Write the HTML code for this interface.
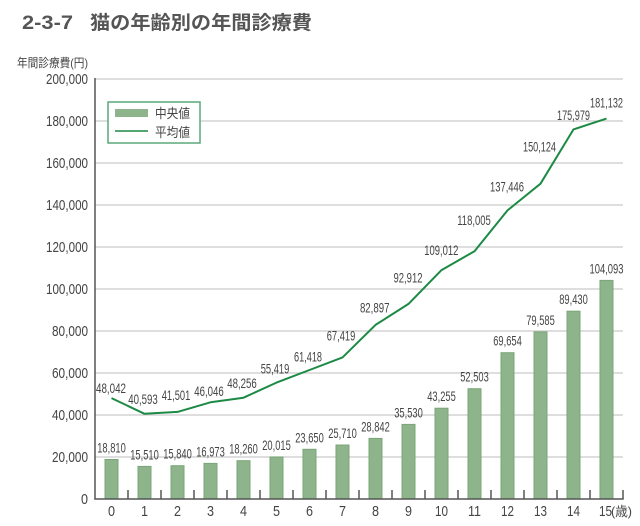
<!DOCTYPE html>
<html><head><meta charset="utf-8"><style>
html,body{margin:0;padding:0;background:#fff;}
svg{display:block;}
text{font-family:"Liberation Sans","Noto Sans CJK JP",sans-serif;fill:#444;}
</style></head><body>
<svg width="640" height="526" viewBox="0 0 640 526" xmlns="http://www.w3.org/2000/svg">
<!-- title -->
<text x="22" y="29" font-size="19" font-weight="bold" style="fill:#555" textLength="51" lengthAdjust="spacingAndGlyphs">2-3-7</text>
<text x="90" y="29" font-size="19" font-weight="bold" style="fill:#555;font-family:'Noto Sans CJK JP',sans-serif" textLength="222" lengthAdjust="spacingAndGlyphs">猫の年齢別の年間診療費</text>
<!-- y axis title -->
<text x="17" y="67" font-size="12" textLength="71" lengthAdjust="spacingAndGlyphs">年間診療費(円)</text>

<!-- gridlines -->
<g stroke="#c9c9c9" stroke-width="1.3">
<line x1="95" y1="79" x2="623" y2="79"/>
<line x1="95" y1="121" x2="623" y2="121"/>
<line x1="95" y1="163" x2="623" y2="163"/>
<line x1="95" y1="205" x2="623" y2="205"/>
<line x1="95" y1="247" x2="623" y2="247"/>
<line x1="95" y1="289" x2="623" y2="289"/>
<line x1="95" y1="331" x2="623" y2="331"/>
<line x1="95" y1="373" x2="623" y2="373"/>
<line x1="95" y1="415" x2="623" y2="415"/>
<line x1="95" y1="457" x2="623" y2="457"/>
</g>

<!-- y labels -->
<g font-size="15" text-anchor="end">
<text x="88" y="84" textLength="42" lengthAdjust="spacingAndGlyphs">200,000</text>
<text x="88" y="126" textLength="42" lengthAdjust="spacingAndGlyphs">180,000</text>
<text x="88" y="168" textLength="42" lengthAdjust="spacingAndGlyphs">160,000</text>
<text x="88" y="210" textLength="42" lengthAdjust="spacingAndGlyphs">140,000</text>
<text x="88" y="252" textLength="42" lengthAdjust="spacingAndGlyphs">120,000</text>
<text x="88" y="294" textLength="42" lengthAdjust="spacingAndGlyphs">100,000</text>
<text x="88" y="336" textLength="36" lengthAdjust="spacingAndGlyphs">80,000</text>
<text x="88" y="378" textLength="36" lengthAdjust="spacingAndGlyphs">60,000</text>
<text x="88" y="420" textLength="36" lengthAdjust="spacingAndGlyphs">40,000</text>
<text x="88" y="462" textLength="36" lengthAdjust="spacingAndGlyphs">20,000</text>
<text x="88" y="504" textLength="7" lengthAdjust="spacingAndGlyphs">0</text>
</g>

<!-- bars -->
<g fill="#8db48b" stroke="#7aa679" stroke-width="1">
<rect x="105" y="459.5" width="13" height="39.5"/>
<rect x="138" y="466.4" width="13" height="32.6"/>
<rect x="171" y="465.7" width="13" height="33.3"/>
<rect x="204" y="463.4" width="13" height="35.6"/>
<rect x="237" y="460.7" width="13" height="38.3"/>
<rect x="270" y="457.0" width="13" height="42.0"/>
<rect x="303" y="449.3" width="13" height="49.7"/>
<rect x="336" y="445.0" width="13" height="54.0"/>
<rect x="369" y="438.4" width="13" height="60.6"/>
<rect x="402" y="424.4" width="13" height="74.6"/>
<rect x="435" y="408.2" width="13" height="90.8"/>
<rect x="468" y="388.7" width="13" height="110.3"/>
<rect x="501" y="352.7" width="13" height="146.3"/>
<rect x="534" y="331.9" width="13" height="167.1"/>
<rect x="567" y="311.2" width="13" height="187.8"/>
<rect x="600" y="280.4" width="13" height="218.6"/>
</g>

<!-- bar labels -->
<g font-size="14" text-anchor="middle">
<text x="111.5" y="452.5" textLength="28.5" lengthAdjust="spacingAndGlyphs">18,810</text>
<text x="144.5" y="459.4" textLength="28.5" lengthAdjust="spacingAndGlyphs">15,510</text>
<text x="177.5" y="458.7" textLength="28.5" lengthAdjust="spacingAndGlyphs">15,840</text>
<text x="210.5" y="456.4" textLength="28.5" lengthAdjust="spacingAndGlyphs">16,973</text>
<text x="243.5" y="453.7" textLength="28.5" lengthAdjust="spacingAndGlyphs">18,260</text>
<text x="276.5" y="450.0" textLength="28.5" lengthAdjust="spacingAndGlyphs">20,015</text>
<text x="309.5" y="442.3" textLength="28.5" lengthAdjust="spacingAndGlyphs">23,650</text>
<text x="342.5" y="438.0" textLength="28.5" lengthAdjust="spacingAndGlyphs">25,710</text>
<text x="375.5" y="431.4" textLength="28.5" lengthAdjust="spacingAndGlyphs">28,842</text>
<text x="408.5" y="417.4" textLength="28.5" lengthAdjust="spacingAndGlyphs">35,530</text>
<text x="441.5" y="401.2" textLength="28.5" lengthAdjust="spacingAndGlyphs">43,255</text>
<text x="474.5" y="381.7" textLength="28.5" lengthAdjust="spacingAndGlyphs">52,503</text>
<text x="507.5" y="345.7" textLength="28.5" lengthAdjust="spacingAndGlyphs">69,654</text>
<text x="540.5" y="324.9" textLength="28.5" lengthAdjust="spacingAndGlyphs">79,585</text>
<text x="573.5" y="304.2" textLength="28.5" lengthAdjust="spacingAndGlyphs">89,430</text>
<text x="606.5" y="273.4" textLength="34" lengthAdjust="spacingAndGlyphs">104,093</text>
</g>

<!-- average line -->
<polyline fill="none" stroke="#1c8a44" stroke-width="2" stroke-linejoin="round"
points="111.5,398.1 144.5,413.8 177.5,411.9 210.5,402.3 243.5,397.7 276.5,382.6 309.5,370.0 342.5,357.4 375.5,324.9 408.5,303.9 441.5,270.1 474.5,251.2 507.5,210.4 540.5,183.7 573.5,129.4 606.5,118.6"/>

<!-- line labels -->
<g font-size="14" text-anchor="middle">
<text x="111" y="393" textLength="30" lengthAdjust="spacingAndGlyphs">48,042</text>
<text x="143" y="404" textLength="29.5" lengthAdjust="spacingAndGlyphs">40,593</text>
<text x="176" y="400" textLength="28.5" lengthAdjust="spacingAndGlyphs">41,501</text>
<text x="209" y="396" textLength="29.5" lengthAdjust="spacingAndGlyphs">46,046</text>
<text x="242" y="388" textLength="29.5" lengthAdjust="spacingAndGlyphs">48,256</text>
<text x="275" y="373.3" textLength="28.5" lengthAdjust="spacingAndGlyphs">55,419</text>
<text x="308" y="361.7" textLength="28" lengthAdjust="spacingAndGlyphs">61,418</text>
<text x="341" y="340.7" textLength="28.5" lengthAdjust="spacingAndGlyphs">67,419</text>
<text x="374.7" y="312.7" textLength="29.5" lengthAdjust="spacingAndGlyphs">82,897</text>
<text x="408" y="282.7" textLength="29" lengthAdjust="spacingAndGlyphs">92,912</text>
<text x="441.3" y="255" textLength="34" lengthAdjust="spacingAndGlyphs">109,012</text>
<text x="474" y="225" textLength="33.5" lengthAdjust="spacingAndGlyphs">118,005</text>
<text x="507" y="191.7" textLength="34" lengthAdjust="spacingAndGlyphs">137,446</text>
<text x="539.5" y="151.7" textLength="33" lengthAdjust="spacingAndGlyphs">150,124</text>
<text x="573.5" y="120" textLength="33" lengthAdjust="spacingAndGlyphs">175,979</text>
<text x="606.5" y="107.3" textLength="33" lengthAdjust="spacingAndGlyphs">181,132</text>
</g>

<!-- axes -->
<g stroke="#555" stroke-width="1.5">
<line x1="95" y1="78" x2="95" y2="499.5"/>
<line x1="94.3" y1="499" x2="623.7" y2="499"/>
<line x1="128" y1="490" x2="128" y2="499"/>
<line x1="161" y1="490" x2="161" y2="499"/>
<line x1="194" y1="490" x2="194" y2="499"/>
<line x1="227" y1="490" x2="227" y2="499"/>
<line x1="260" y1="490" x2="260" y2="499"/>
<line x1="293" y1="490" x2="293" y2="499"/>
<line x1="326" y1="490" x2="326" y2="499"/>
<line x1="359" y1="490" x2="359" y2="499"/>
<line x1="392" y1="490" x2="392" y2="499"/>
<line x1="425" y1="490" x2="425" y2="499"/>
<line x1="458" y1="490" x2="458" y2="499"/>
<line x1="491" y1="490" x2="491" y2="499"/>
<line x1="524" y1="490" x2="524" y2="499"/>
<line x1="557" y1="490" x2="557" y2="499"/>
<line x1="590" y1="490" x2="590" y2="499"/>
<line x1="623" y1="490" x2="623" y2="499"/>
</g>

<!-- x labels -->
<g font-size="15" text-anchor="middle">
<text x="111.5" y="516" textLength="7" lengthAdjust="spacingAndGlyphs">0</text>
<text x="144.5" y="516" textLength="7" lengthAdjust="spacingAndGlyphs">1</text>
<text x="177.5" y="516" textLength="7" lengthAdjust="spacingAndGlyphs">2</text>
<text x="210.5" y="516" textLength="7" lengthAdjust="spacingAndGlyphs">3</text>
<text x="243.5" y="516" textLength="7" lengthAdjust="spacingAndGlyphs">4</text>
<text x="276.5" y="516" textLength="7" lengthAdjust="spacingAndGlyphs">5</text>
<text x="309.5" y="516" textLength="7" lengthAdjust="spacingAndGlyphs">6</text>
<text x="342.5" y="516" textLength="7" lengthAdjust="spacingAndGlyphs">7</text>
<text x="375.5" y="516" textLength="7" lengthAdjust="spacingAndGlyphs">8</text>
<text x="408.5" y="516" textLength="7" lengthAdjust="spacingAndGlyphs">9</text>
<text x="441.5" y="516" textLength="13" lengthAdjust="spacingAndGlyphs">10</text>
<text x="474.5" y="516" textLength="13" lengthAdjust="spacingAndGlyphs">11</text>
<text x="507.5" y="516" textLength="13" lengthAdjust="spacingAndGlyphs">12</text>
<text x="540.5" y="516" textLength="13" lengthAdjust="spacingAndGlyphs">13</text>
<text x="573.5" y="516" textLength="13" lengthAdjust="spacingAndGlyphs">14</text>
<text x="605.5" y="516" textLength="13" lengthAdjust="spacingAndGlyphs">15</text>
</g>
<text x="611" y="516" font-size="13" textLength="21" lengthAdjust="spacingAndGlyphs">(歳)</text>

<!-- legend -->
<rect x="108" y="102" width="92" height="41" fill="#fff" stroke="#5aa97a" stroke-width="1.5"/>
<rect x="115" y="109" width="33" height="8" fill="#8db48b"/>
<line x1="115" y1="131" x2="148" y2="131" stroke="#1c8a44" stroke-width="1.6"/>
<text x="155" y="118" font-size="13" textLength="35" lengthAdjust="spacingAndGlyphs">中央値</text>
<text x="155" y="137" font-size="13" textLength="35" lengthAdjust="spacingAndGlyphs">平均値</text>
</svg>
</body></html>
